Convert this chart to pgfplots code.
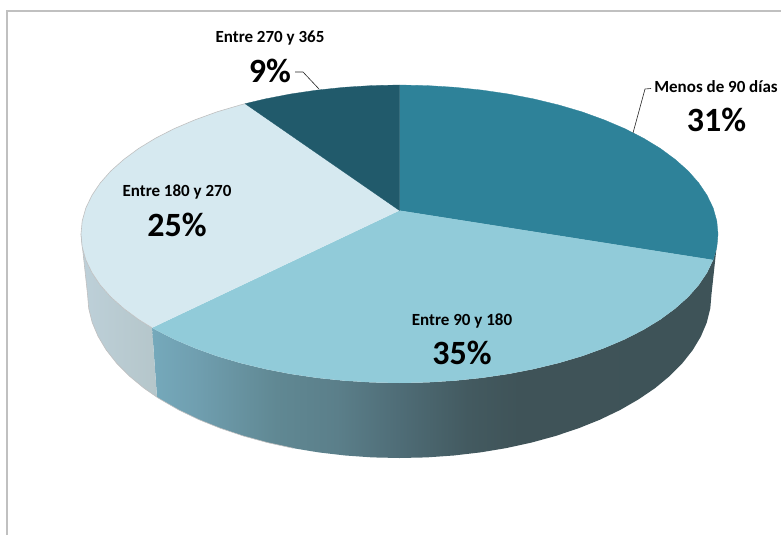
\documentclass[border=0pt]{standalone}
\usepackage{fontspec}
\setmainfont{Carlito}
\usepackage{pgfplots}
\pgfplotsset{compat=1.18}
\definecolor{sA}{HTML}{2E8299}
\definecolor{sB}{HTML}{91CBD9}
\definecolor{sC}{HTML}{D6E9F0}
\definecolor{sD}{HTML}{215A6B}
\definecolor{fr}{HTML}{C0C0C0}
\definecolor{w1}{HTML}{75A9BB}
\definecolor{w2}{HTML}{709FB0}
\definecolor{w3}{HTML}{608893}
\definecolor{w4}{HTML}{5B7F8A}
\definecolor{w5}{HTML}{4F6D77}
\definecolor{w6}{HTML}{435A60}
\definecolor{w7}{HTML}{3F5358}
\definecolor{w8}{HTML}{3E5358}
\definecolor{l1}{HTML}{BDD0D9}
\definecolor{l2}{HTML}{B5C6CA}
\pgfdeclarehorizontalshading{wallmain}{100bp}{
 color(0bp)=(w1); color(25bp)=(w1); color(28.8bp)=(w2); color(36bp)=(w3);
 color(41.3bp)=(w4); color(46.7bp)=(w5); color(52.9bp)=(w6); color(57.4bp)=(w7);
 color(75bp)=(w8); color(100bp)=(w8)}
\pgfdeclarehorizontalshading{wallleft}{100bp}{
 color(0bp)=(l1); color(25bp)=(l1); color(75bp)=(l2); color(100bp)=(l2)}
\begin{document}
\begin{tikzpicture}
\path[use as bounding box] (0,0) rectangle (781pt,535pt);
\begin{axis}[at={(0,0)},anchor=south west,scale only axis,width=781pt,height=535pt,xmin=0,xmax=781,ymin=0,ymax=535,
  y dir=reverse,hide axis,clip=true]
% frame
\addplot[fr,line width=1.2pt,mark=none] coordinates {(7,535)(7,11)(781,11)};
% main side wall
\addplot[shading=wallmain,draw=none,mark=none] coordinates {
(718.0,234.0)(716.8,247.0)(713.2,259.9)(707.1,272.6)(698.8,285.0)(688.2,297.0)(675.3,308.5)(660.4,319.5)(643.5,329.8)(624.7,339.4)(604.2,348.1)(582.2,356.1)(558.8,363.0)(534.1,369.0)(508.4,374.0)(481.9,377.9)(454.8,380.7)(427.3,382.4)(399.5,383.0)(371.7,382.4)(344.2,380.7)(317.1,377.9)(290.6,374.0)(264.9,369.0)(240.2,363.0)(216.8,356.1)(194.8,348.1)(174.3,339.4)(155.5,329.8)(152.0,327.8)
(157.0,397.2)(160.5,399.4)(178.9,410.0)(198.9,419.6)(220.5,428.3)(243.5,436.0)(267.6,442.6)(292.8,448.1)(318.7,452.4)(345.3,455.5)(372.3,457.4)(399.5,458.0)(426.7,457.4)(453.7,455.5)(480.3,452.4)(506.2,448.1)(531.4,442.6)(555.5,436.0)(578.5,428.3)(600.1,419.6)(620.1,410.0)(638.5,399.4)(655.1,388.1)(669.7,376.0)(682.3,363.3)(692.7,350.1)(700.9,336.4)(706.8,322.5)(710.3,308.3)(711.5,294.0)
};
% left side wall
\addplot[shading=wallleft,draw=none,mark=none] coordinates {
(152.0,327.8)(138.6,319.5)(123.7,308.5)(110.8,297.0)(100.2,285.0)(91.9,272.6)(85.8,259.9)(82.2,247.0)(81.0,234.0)
(87.5,294.0)(88.7,308.3)(92.2,322.5)(98.1,336.4)(106.3,350.1)(116.7,363.3)(129.3,376.0)(143.9,388.1)(157.0,397.2)
};
% outline of the light wall
\addplot[fr,line width=0.6pt,mark=none] coordinates {
(81.0,234.0)(87.5,294.0)(88.7,308.3)(92.2,322.5)(98.1,336.4)(106.3,350.1)(116.7,363.3)(129.3,376.0)(143.9,388.1)(157.0,397.2)(160.5,399.4)(178.9,410.0)(198.9,419.6)(220.5,428.3)(243.5,436.0)(267.6,442.6)(292.8,448.1)
};
% Menos de 90 dias
\addplot[fill=sA,draw=sA,line width=0.3pt,mark=none] coordinates {
(399.5,210.5)(399.5,85.0)(427.3,85.6)(454.8,87.3)(481.9,90.1)(508.4,94.0)(534.1,99.0)(558.8,105.0)(582.2,111.9)(604.2,119.9)(624.7,128.6)(643.5,138.2)(660.4,148.5)(675.3,159.5)(688.2,171.0)(698.8,183.0)(707.1,195.4)(713.2,208.1)(716.8,221.0)(718.0,234.0)(716.8,247.0)(713.2,259.9)
} --cycle;
% Entre 90 y 180
\addplot[fill=sB,draw=none,mark=none] coordinates {
(399.5,210.5)(713.2,259.9)(707.1,272.6)(698.8,285.0)(688.2,297.0)(675.3,308.5)(660.4,319.5)(643.5,329.8)(624.7,339.4)(604.2,348.1)(582.2,356.1)(558.8,363.0)(534.1,369.0)(508.4,374.0)(481.9,377.9)(454.8,380.7)(427.3,382.4)(399.5,383.0)(371.7,382.4)(344.2,380.7)(317.1,377.9)(290.6,374.0)(264.9,369.0)(240.2,363.0)(216.8,356.1)(194.8,348.1)(174.3,339.4)(155.5,329.8)(152.0,327.8)
};
% Entre 180 y 270
\addplot[fill=sC,draw=none,mark=none] coordinates {
(399.5,210.5)(152.0,327.8)(138.6,319.5)(123.7,308.5)(110.8,297.0)(100.2,285.0)(91.9,272.6)(85.8,259.9)(82.2,247.0)(81.0,234.0)(82.2,221.0)(85.8,208.1)(91.9,195.4)(100.2,183.0)(110.8,171.0)(123.7,159.5)(138.6,148.5)(155.5,138.2)(174.3,128.6)(194.8,119.9)(216.8,111.9)(240.2,105.0)(245.1,103.7)
};
% Entre 270 y 365
\addplot[fill=sD,draw=sD,line width=0.3pt,mark=none] coordinates {
(399.5,210.5)(245.1,103.7)(264.9,99.0)(290.6,94.0)(317.1,90.1)(344.2,87.3)(371.7,85.6)(399.5,85.0)
} --cycle;
% rim outline on the light part
\addplot[fr,line width=0.6pt,mark=none] coordinates {
(152.0,327.8)(138.6,319.5)(123.7,308.5)(110.8,297.0)(100.2,285.0)(91.9,272.6)(85.8,259.9)(82.2,247.0)(81.0,234.0)(82.2,221.0)(85.8,208.1)(91.9,195.4)(100.2,183.0)(110.8,171.0)(123.7,159.5)(138.6,148.5)(155.5,138.2)(174.3,128.6)(194.8,119.9)(216.8,111.9)(240.2,105.0)(245.1,103.7)
};
% leaders
\addplot[black!85,line width=0.6pt,mark=none] coordinates {(295,72)(303,72)(319,89)};
\addplot[black!85,line width=0.6pt,mark=none] coordinates {(633,133)(645,89)(651,88.5)};
% labels
\node[font=\bfseries\fontsize{17}{18}\selectfont] at (axis cs:270,38.5) {Entre 270 y 365};
\node[font=\bfseries\fontsize{34}{36}\selectfont] at (axis cs:270,71) {9\%};
\node[font=\bfseries\fontsize{17}{18}\selectfont] at (axis cs:177,192) {Entre 180 y 270};
\node[font=\bfseries\fontsize{34}{36}\selectfont] at (axis cs:177,225) {25\%};
\node[font=\bfseries\fontsize{17}{18}\selectfont] at (axis cs:716,86.5) {Menos de 90 días};
\node[font=\bfseries\fontsize{34}{36}\selectfont] at (axis cs:716.5,120) {31\%};
\node[font=\bfseries\fontsize{17}{18}\selectfont] at (axis cs:462,320.5) {Entre 90 y 180};
\node[font=\bfseries\fontsize{34}{36}\selectfont] at (axis cs:462,353) {35\%};
\end{axis}
\end{tikzpicture}
\end{document}
